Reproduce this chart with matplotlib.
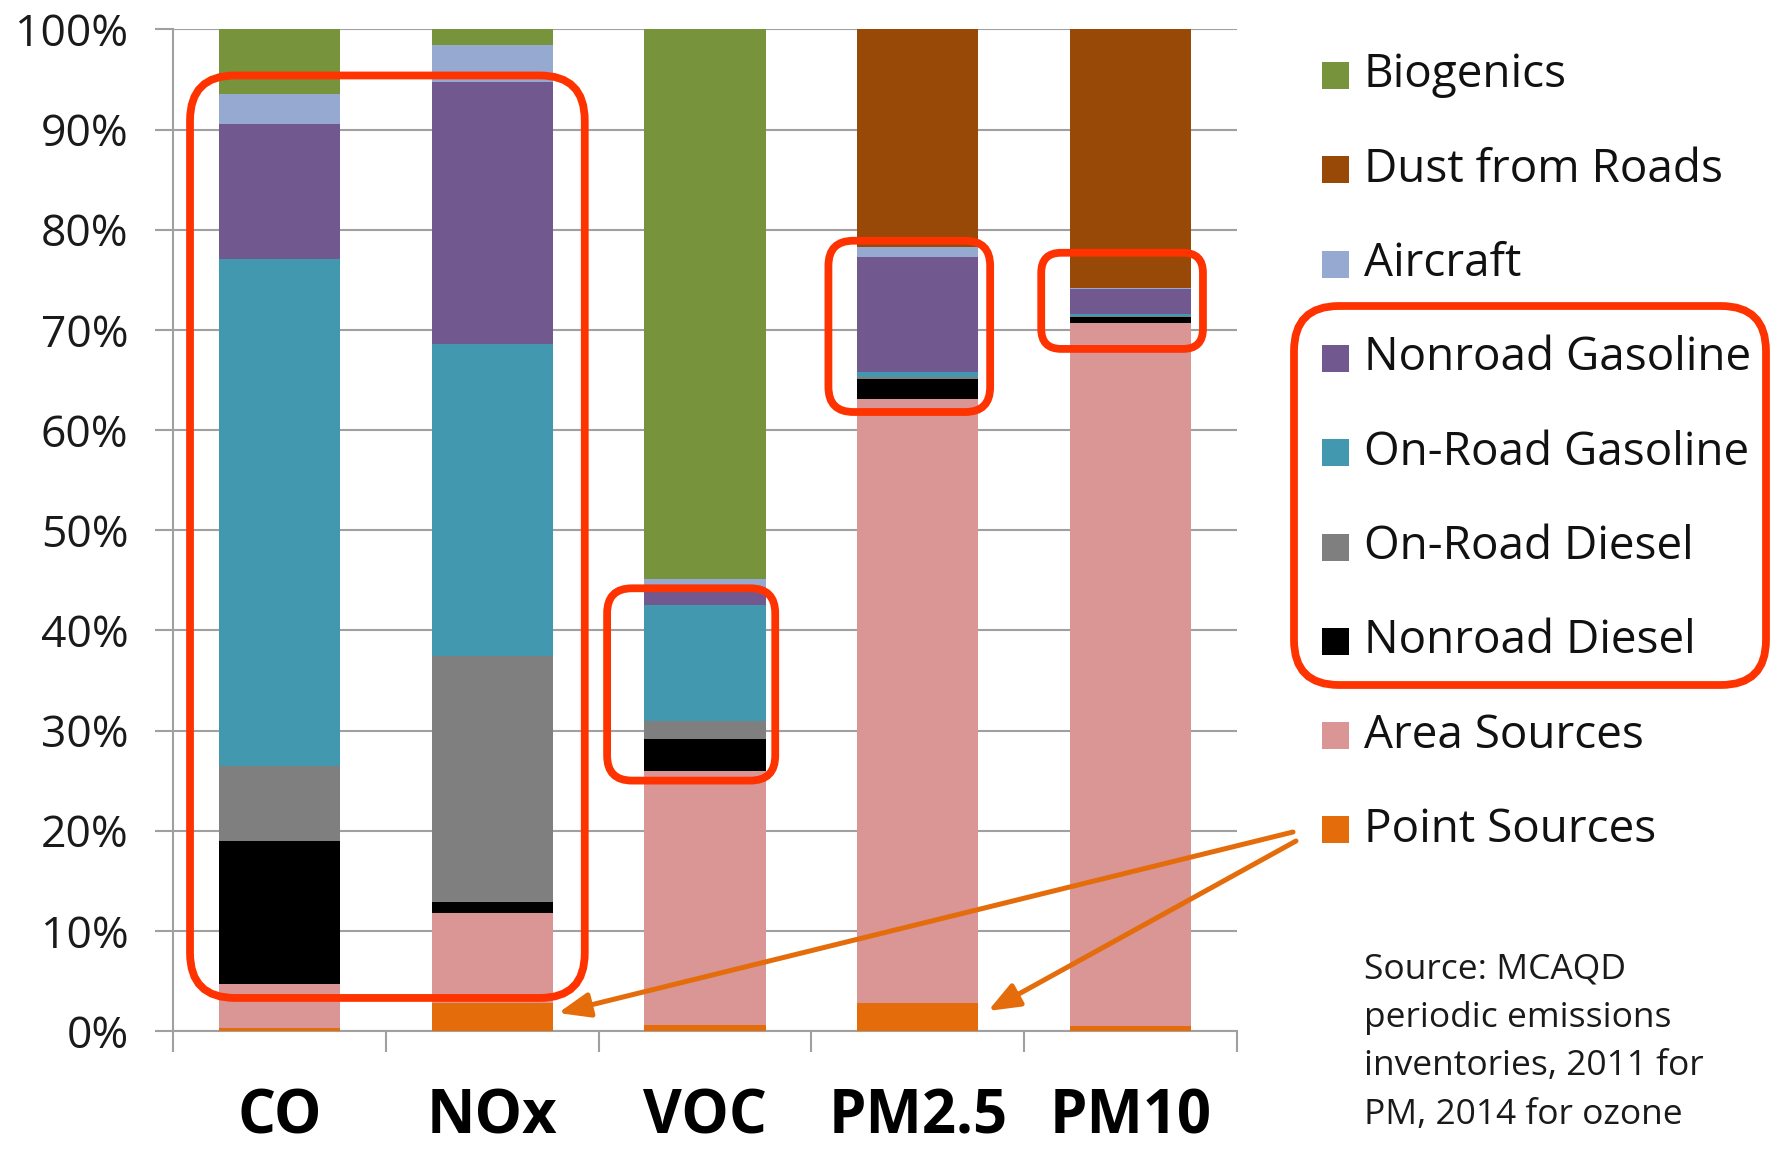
import matplotlib
matplotlib.use("Agg")
import matplotlib.pyplot as plt
from matplotlib.patches import FancyBboxPatch, Rectangle
from matplotlib.transforms import IdentityTransform
import numpy as np

# ---------------- data ----------------
categories = ["CO", "NOx", "VOC", "PM2.5", "PM10"]
# stacking order bottom -> top
series_names = ["Point Sources", "Area Sources", "Nonroad Diesel", "On-Road Diesel",
                "On-Road Gasoline", "Nonroad Gasoline", "Aircraft", "Dust from Roads", "Biogenics"]
point_sources    = [0.3, 2.8, 0.6, 2.8, 0.5]
area_sources     = [4.4, 9.0, 25.4, 60.3, 70.2]
nonroad_diesel   = [14.3, 1.1, 3.2, 2.0, 0.6]
onroad_diesel    = [7.5, 24.5, 1.8, 0.2, 0.1]
onroad_gasoline  = [50.6, 31.2, 11.5, 0.5, 0.2]
nonroad_gasoline = [13.5, 26.1, 1.3, 11.5, 2.5]
aircraft         = [3.0, 3.7, 1.3, 1.0, 0.1]
dust_from_roads  = [0.0, 0.0, 0.0, 21.7, 25.8]
biogenics        = [6.4, 1.6, 54.9, 0.0, 0.0]
series_values = [point_sources, area_sources, nonroad_diesel, onroad_diesel,
                 onroad_gasoline, nonroad_gasoline, aircraft, dust_from_roads, biogenics]
series_colors = ["#E46C0A", "#D99694", "#000000", "#7F7F7F",
                 "#4198AF", "#71588F", "#95A9D1", "#984807", "#77933C"]
legend_order = ["Biogenics", "Dust from Roads", "Aircraft", "Nonroad Gasoline",
                "On-Road Gasoline", "On-Road Diesel", "Nonroad Diesel",
                "Area Sources", "Point Sources"]
ytick_values = list(range(0, 101, 10))
ytick_labels = [f"{v}%" for v in ytick_values]
source_text = "Source: MCAQD\nperiodic emissions\ninventories, 2011 for\nPM, 2014 for ozone"

FONT = "Open Sans"
plt.rcParams["font.family"] = [FONT, "DejaVu Sans"]

W, H = 1771, 1150
fig = plt.figure(figsize=(W / 100, H / 100), dpi=100)
ax = fig.add_axes([173 / W, 1 - 1031 / H, (1237 - 173) / W, (1031 - 29.4) / H])

x = np.arange(len(categories))
bottom = np.zeros(len(categories))
for name, vals, col in zip(series_names, series_values, series_colors):
    v = np.array(vals, dtype=float)
    ax.bar(x, v, bottom=bottom, width=0.57, color=col, linewidth=0, zorder=3)
    bottom += v

ax.set_xlim(-0.5, len(categories) - 0.5)
ax.set_ylim(0, 100)

grid_col = "#A0A0A0"
ax.set_yticks(ytick_values)
ax.set_yticklabels(ytick_labels, fontsize=32, family=FONT, color="#1a1a1a")
ax.yaxis.grid(True, color=grid_col, linewidth=1.5, zorder=0)
ax.tick_params(axis="y", length=13, width=1.5, color=grid_col, pad=19)

ax.set_xticks(np.arange(-0.5, len(categories), 1.0))
ax.set_xticklabels([])
ax.set_xticks(x, minor=True)
ax.set_xticklabels(categories, minor=True, fontsize=43, fontweight="bold", family=FONT)
ax.tick_params(axis="x", which="major", length=15, width=1.5, color=grid_col)
ax.tick_params(axis="x", which="minor", length=0, pad=41)

for s in ["top", "right"]:
    ax.spines[s].set_visible(False)
for s in ["left", "bottom"]:
    ax.spines[s].set_color(grid_col)
    ax.spines[s].set_linewidth(1.5)
ax.set_axisbelow(True)

# ---------------- highlight boxes ----------------
red = "#FF3300"
BOX_LW = 5.6

def data_box(x0, x1, y0, y1, r):
    (px0, py0) = ax.transData.transform((x0, y0))
    (px1, py1) = ax.transData.transform((x1, y1))
    p = FancyBboxPatch((px0, py0), px1 - px0, py1 - py0,
                       boxstyle=f"round,pad=0,rounding_size={r}",
                       transform=IdentityTransform(), fill=False,
                       edgecolor=red, linewidth=BOX_LW, zorder=10)
    fig.add_artist(p)

data_box(-0.42, 1.435, 3.3, 95.4, 45)
data_box(1.54, 2.33, 25.0, 44.2, 25)
data_box(2.58, 3.34, 61.8, 78.9, 25)
data_box(3.58, 4.34, 68.1, 77.7, 20)

# legend box (figure pixel coords, image top-left origin)
lx0, lx1, ly0, ly1 = 1294, 1766, 306, 685
fig.add_artist(FancyBboxPatch((lx0, H - ly1), lx1 - lx0, ly1 - ly0,
                              boxstyle="round,pad=0,rounding_size=45",
                              transform=IdentityTransform(), fill=False,
                              edgecolor=red, linewidth=BOX_LW, zorder=10))

# ---------------- legend (manual) ----------------
color_of = dict(zip(series_names, series_colors))
SQ = 27
for i, name in enumerate(legend_order):
    yc = 75.5 + i * 94.3
    fig.add_artist(Rectangle((1322 / W, 1 - (yc + SQ / 2) / H), SQ / W, SQ / H,
                             transform=fig.transFigure, facecolor=color_of[name],
                             edgecolor="none"))
    fig.text(1364 / W, 1 - yc / H, name, fontsize=33, va="center", ha="left",
             color="#111111", family=FONT)

fig.text(1364 / W, 1 - 952 / H, source_text, fontsize=25.5, va="top", ha="left",
         linespacing=1.56, color="#1a1a1a", family=FONT)

# ---------------- arrows ----------------
orange = "#E46C0A"
for (hx, hy), (tx, ty) in [((1.31, 1.8), (1293, 832)), ((3.33, 2.0), (1296, 841))]:
    ax.annotate("", xy=(hx, hy), xycoords="data",
                xytext=(tx / W, 1 - ty / H), textcoords="figure fraction",
                arrowprops=dict(arrowstyle="-|>,head_length=1.9,head_width=0.75",
                                color=orange, lw=3.6, shrinkA=0, shrinkB=0),
                annotation_clip=False, zorder=11)

fig.savefig("out.png", dpi=100)
